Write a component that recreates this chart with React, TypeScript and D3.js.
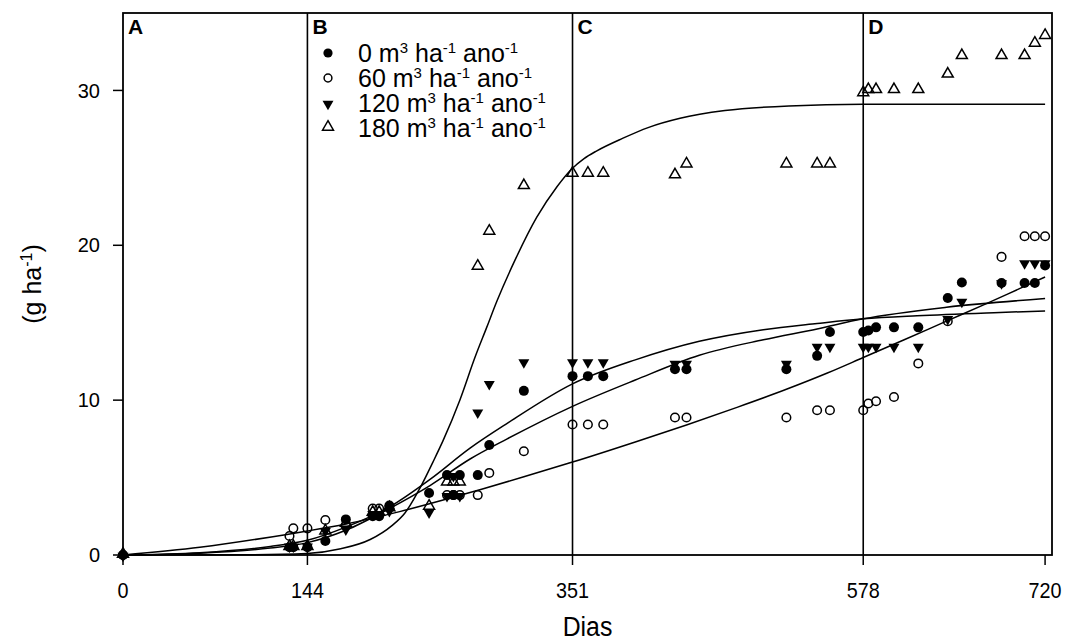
import React from 'react';
import * as d3 from 'd3';

// ---- Data ----
const days = [0, 130, 133, 144, 158, 174, 195, 200, 208, 239, 253, 258, 263, 277, 286, 313, 351, 363, 375, 431, 440, 518, 542, 552, 578, 582, 588, 602, 621, 644, 655, 686, 704, 712, 720];
const s0 = [0, 0.5, 0.5, 0.5, 0.9, 2.3, 2.5, 2.5, 3.2, 4.0, 5.16, 3.87, 5.16, 5.16, 7.1, 10.6, 11.55, 11.55, 11.55, 12.0, 12.0, 12.0, 12.86, 14.4, 14.4, 14.5, 14.7, 14.7, 14.7, 16.6, 17.6, 17.57, 17.57, 17.57, 18.7];
const s60 = [0, 1.23, 1.72, 1.72, 2.26, 1.9, 3.0, 3.0, 3.1, null, 3.87, 3.87, 3.87, 3.87, 5.3, 6.7, 8.43, 8.43, 8.43, 8.88, 8.88, 8.88, 9.35, 9.35, 9.35, 9.78, 9.93, 10.2, 12.37, 15.1, null, 19.25, 20.58, 20.58, 20.58];
const s120 = [0, 0.6, 0.6, 0.6, 1.6, 1.7, 2.7, 2.7, 2.9, 2.8, 3.87, 5.16, 3.87, 9.25, 11.1, 12.5, 12.5, 12.5, 12.5, 12.4, 12.4, 12.4, 13.5, 13.5, 13.5, 13.5, 13.5, 13.5, 13.5, 15.3, 16.4, 17.6, 18.9, 18.9, 18.9];
const s180 = [0, 0.5, 0.5, 0.5, 1.5, 2.0, 2.7, 2.7, 3.0, 3.1, 4.66, 4.66, 4.66, 18.6, 20.86, 23.8, 24.6, 24.6, 24.6, 24.5, 25.2, 25.2, 25.2, 25.2, 29.8, 30.0, 30.0, 30.0, 30.0, 31.0, 32.2, 32.2, 32.2, 33.0, 33.5];

// fitted curves
const fitDays180 = [0, 100, 144, 170, 193, 210, 220, 233, 242, 250, 263, 275, 284, 292, 307, 323, 339, 350, 360, 370, 390, 410, 435, 470, 520, 578, 720];
const fit180 = [0, 0.02, 0.1, 0.4, 1.0, 1.9, 2.7, 4.5, 6.0, 7.4, 10.0, 12.8, 14.7, 16.4, 19.2, 21.8, 23.8, 24.9, 25.6, 26.1, 26.9, 27.6, 28.2, 28.7, 29.0, 29.1, 29.1];
const fitDays60 = [0, 60, 128, 144, 174, 216, 250, 280, 313, 351, 400, 440, 480, 518, 550, 578, 610, 643, 672, 700, 720];
const fit60 = [0, 0.5, 1.33, 1.55, 2.0, 2.8, 3.55, 4.25, 5.05, 6.0, 7.3, 8.4, 9.55, 10.7, 11.75, 12.75, 13.9, 15.1, 16.15, 17.2, 17.95];
const fitDays120 = [0, 60, 115, 144, 174, 208, 240, 271, 300, 351, 400, 450, 500, 542, 578, 620, 680, 720];
const fit120 = [0, 0.15, 0.55, 0.95, 1.8, 3.1, 4.9, 6.9, 8.5, 11.05, 12.6, 13.8, 14.55, 14.95, 15.25, 15.45, 15.65, 15.76];
const fitDays0 = [0, 60, 115, 144, 174, 208, 240, 271, 300, 351, 400, 450, 500, 542, 578, 643, 720];
const fit0 = [0, 0.12, 0.45, 0.8, 1.6, 3.0, 4.5, 6.2, 7.5, 9.6, 11.3, 12.9, 13.9, 14.6, 15.25, 16.0, 16.56];

const xTicks = [0, 144, 351, 578, 720];
const yTicks = [0, 10, 20, 30];
const phaseDays = [144, 351, 578];
const panelDays = [0, 144, 351, 578];
const panelLabels = ['A', 'B', 'C', 'D'];
const legendDoses = ['0', '60', '120', '180'];
const xTitle = 'Dias';

const W = 1070, H = 642;
const M = { left: 123, right: 1052, top: 13, bottom: 555 };

const x = d3.scaleLinear().domain([0, 725.4]).range([M.left, M.right]);
const y = d3.scaleLinear().domain([0, 35]).range([M.bottom, M.top]);

const FONT = "'Liberation Sans', Arial, sans-serif";

const tri = d3.symbol().type(d3.symbolTriangle).size(52)() as string;

function Marker({ kind, cx, cy, r = 5 }: { kind: number; cx: number; cy: number; r?: number }) {
  if (kind === 0) return <circle cx={cx} cy={cy} r={r} fill="#000" />;
  if (kind === 1) return <circle cx={cx} cy={cy} r={r - 0.7} fill="none" stroke="#000" strokeWidth={1.5} />;
  if (kind === 2) return <path d={tri} transform={`translate(${cx},${cy + 1}) rotate(180)`} fill="#000" />;
  return <path d={tri} transform={`translate(${cx},${cy - 1})`} fill="none" stroke="#000" strokeWidth={1.5} />;
}

export default function App() {
  const series = [s0, s60, s120, s180];
  const fits: [number[], number[]][] = [
    [fitDays180, fit180],
    [fitDays60, fit60],
    [fitDays120, fit120],
    [fitDays0, fit0],
  ];
  const line = d3
    .line<[number, number]>()
    .x((d) => x(d[0]))
    .y((d) => y(d[1]))
    .curve(d3.curveMonotoneX);

  return (
    <svg width={W} height={H} style={{ position: 'absolute', left: 0, top: 0, background: '#fff' }} fontFamily={FONT}>
      {/* phase lines */}
      {phaseDays.map((d) => (
        <line key={d} x1={x(d)} x2={x(d)} y1={M.top} y2={M.bottom} stroke="#000" strokeWidth={1.6} />
      ))}
      {/* fitted curves */}
      {fits.map(([dd, vv], i) => (
        <path key={i} d={line(dd.map((d, j) => [d, vv[j]] as [number, number])) || ''} fill="none" stroke="#000" strokeWidth={1.5} />
      ))}
      {/* markers */}
      {series.map((vals, k) => (
        <g key={k}>
          {days.map((d, i) =>
            vals[i] == null ? null : <Marker key={i} kind={k} cx={x(d)} cy={y(vals[i] as number)} />
          )}
        </g>
      ))}
      {/* frame */}
      <rect x={M.left} y={M.top} width={M.right - M.left} height={M.bottom - M.top} fill="none" stroke="#000" strokeWidth={1.8} />
      {/* y ticks */}
      {yTicks.map((t) => (
        <g key={t}>
          <line x1={M.left - 10} x2={M.left} y1={y(t)} y2={y(t)} stroke="#000" strokeWidth={1.5} />
          <text x={M.left - 23} y={y(t)} dy="0.36em" textAnchor="end" fontSize={20}>
            {t}
          </text>
        </g>
      ))}
      {/* x ticks */}
      {xTicks.map((t) => (
        <g key={t}>
          <line x1={x(t)} x2={x(t)} y1={M.bottom} y2={M.bottom + 10} stroke="#000" strokeWidth={1.5} />
          <text transform={`translate(${x(t)},598) scale(0.9,1)`} textAnchor="middle" fontSize={22}>
            {t}
          </text>
        </g>
      ))}
      <text transform={`translate(${(M.left + M.right) / 2},636) scale(0.92,1)`} textAnchor="middle" fontSize={27}>
        {xTitle}
      </text>
      <text transform={`translate(41,${(M.top + M.bottom) / 2}) rotate(-90)`} textAnchor="middle" fontSize={25}>
        (g ha
        <tspan dy={-9} fontSize={16}>-1</tspan>
        <tspan dy={9}>)</tspan>
      </text>
      {/* panel labels */}
      {panelDays.map((d, i) => (
        <text key={d} x={x(d) + 5} y={34} fontSize={21} fontWeight="bold">
          {panelLabels[i]}
        </text>
      ))}
      {/* legend */}
      {legendDoses.map((dose, i) => (
        <g key={dose} transform={`translate(328,${53 + i * 25})`}>
          <Marker kind={i} cx={0} cy={0} r={4.6} />
          <text x={30} y={9} fontSize={25}>
            {dose} m
            <tspan dy={-9} fontSize={15}>3</tspan>
            <tspan dy={9}> ha</tspan>
            <tspan dy={-9} fontSize={15}>-1</tspan>
            <tspan dy={9}> ano</tspan>
            <tspan dy={-9} fontSize={15}>-1</tspan>
          </text>
        </g>
      ))}
    </svg>
  );
}
